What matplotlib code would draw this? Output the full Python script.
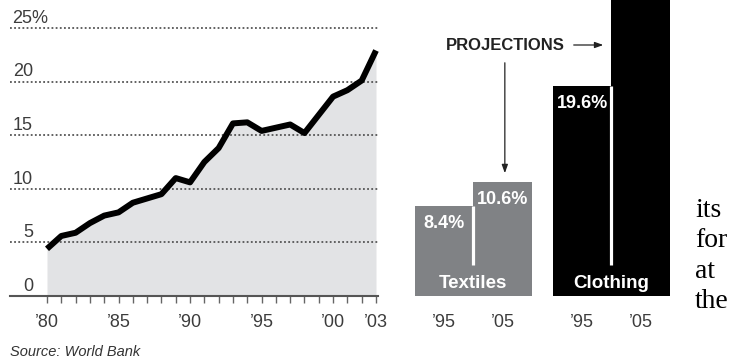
import matplotlib
matplotlib.use("Agg")
import matplotlib.pyplot as plt

plt.rcParams["font.family"] = ["Liberation Sans", "DejaVu Sans"]

# Data

years = list(range(1980, 2004))
share = [4.4, 5.6, 5.9, 6.8, 7.5, 7.8, 8.7, 9.1, 9.5, 11.0, 10.6, 12.5,
         13.8, 16.1, 16.2, 15.4, 15.7, 16.0, 15.2, 16.9, 18.6, 19.2, 20.1, 22.9]
year_labels = {1980: "’80", 1985: "’85", 1990: "’90", 1995: "’95",
               2000: "’00", 2003: "’03"}
grid_values = [5, 10, 15, 20, 25]
axis_labels = ["0", "5", "10", "15", "20", "25%"]

groups = ["Textiles", "Clothing"]
proj_years = ["’95", "’05"]
textiles = [8.4, 10.6]
clothing = [19.6, 30.0]   # 2005 clothing bar runs off the top of the picture

side_words = ["its", "for", "at", "the"]

W, H = 742, 363
fig = plt.figure(figsize=(W / 100, H / 100), dpi=100)

dark = "#3c3c3c"
ymax = 296 / 10.72

# Left: line chart

ax = fig.add_axes([10 / W, 67 / H, 368 / W, 296 / H])
ax.set_xlim(1980 - 37 / 14.304, 2003 + 2 / 14.304)
ax.set_ylim(0, ymax)

ax.fill_between(years, 0, share, color="#e2e3e5", lw=0, zorder=1)
for g in grid_values:
    ax.axhline(g, color="#555555", lw=1.3, ls=(0, (1, 1.3)), zorder=2)
ax.plot(years, share, color="black", lw=4.3, solid_joinstyle="round",
        solid_capstyle="butt", zorder=3, clip_on=False)

for v, lab in zip([0] + grid_values, axis_labels):
    if lab.endswith("%"):
        ax.text(1980 - 35 / 14.304, v + 0.9, lab, ha="left", va="center",
                fontsize=13, color=dark)
    else:
        ax.text(1980 - 14 / 14.304, v + 0.9, lab, ha="right", va="center",
                fontsize=13, color=dark)

ax.set_xticks(years)
ax.set_xticklabels([year_labels.get(y, "") for y in years])
ax.tick_params(axis="x", length=5, width=1, color="#666666", pad=8,
               labelsize=13, labelcolor=dark)
ax.set_yticks([])
for s in ["left", "right", "top"]:
    ax.spines[s].set_visible(False)
ax.spines["bottom"].set_color("#555555")
ax.spines["bottom"].set_linewidth(1.5)
ax.patch.set_visible(False)

# Right: projection bars

bx = fig.add_axes([395 / W, 67 / H, 347 / W, 296 / H])
bx.set_xlim(-49 / 58.5, 298 / 58.5)
bx.set_ylim(0, ymax)

offset = 2.36
positions = [[0, 1], [offset, offset + 1]]
values = [textiles, clothing]
colors = ["#808285", "#000000"]

for name, pos, vals, col in zip(groups, positions, values, colors):
    bx.bar(pos, vals, width=1.0, color=col, lw=0, zorder=1)
    mid = (pos[0] + pos[1]) / 2
    bx.plot([mid, mid], [2.9, min(vals)], color="white", lw=2.3,
            solid_capstyle="butt", zorder=2)
    for p, v in zip(pos, vals):
        # the top of the 2005 clothing bar (and its label) is off the picture
        if v - 1.6 < ymax - 1:
            bx.text(p, v - 1.6, f"{v:.1f}%", ha="center", va="center",
                    color="white", fontsize=13, fontweight="bold")
    bx.text(mid, 1.2, name, ha="center", va="center", color="white",
            fontsize=13.5, fontweight="bold")

bx.set_xticks([p for pos in positions for p in pos])
bx.set_xticklabels(proj_years * len(groups))
bx.tick_params(axis="x", length=0, pad=13, labelsize=13, labelcolor=dark)
bx.set_yticks([])
for s in bx.spines.values():
    s.set_visible(False)
bx.patch.set_visible(False)

# Projections note and arrows
py = (296 - 45) / 10.72
bx.text(1.04, py, "PROJECTIONS", ha="center", va="center",
        fontsize=12, fontweight="bold", color="#222222")
bx.annotate("", xy=(2.77, py), xytext=(2.17, py),
            arrowprops=dict(arrowstyle="-|>,head_length=0.5,head_width=0.18",
                            color="#222222", lw=0.9))
bx.annotate("", xy=(1.04, textiles[1] + 0.6), xytext=(1.04, py - 1.4),
            arrowprops=dict(arrowstyle="-|>,head_length=0.5,head_width=0.18",
                            color="#222222", lw=0.9))

# Source and stray body text
fig.text(10 / W, 1 - 352 / H, "Source: World Bank", fontsize=10.5,
         style="italic", color="#333333", va="center")
for word, base in zip(side_words, [217, 247, 278, 308]):
    fig.text(695 / W, 1 - base / H, word, fontsize=20,
             family=["Liberation Serif", "DejaVu Serif"], va="baseline",
             color="black")

fig.savefig("out.png", dpi=100)
